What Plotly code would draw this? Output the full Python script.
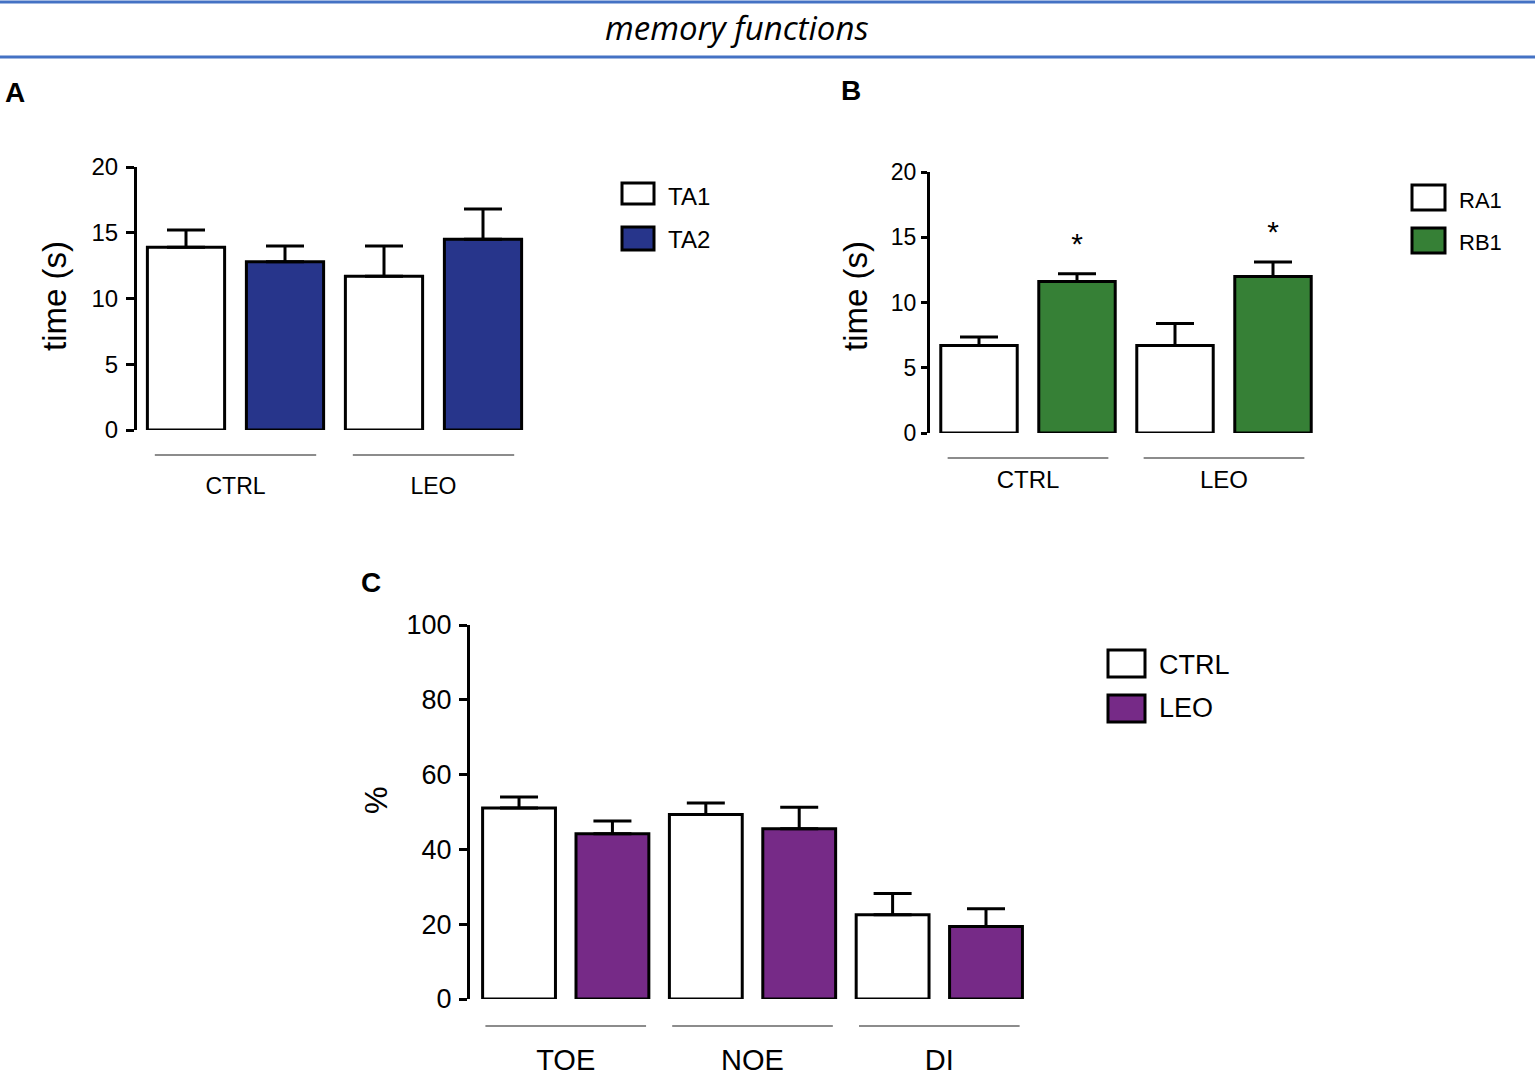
import plotly.graph_objects as go

# ---------------- data ----------------
A_groups = ["CTRL", "LEO"]
A_series = ["TA1", "TA2"]
TA1 = [13.9, 11.7]
TA1_sem = [1.3, 2.3]
TA2 = [12.8, 14.5]
TA2_sem = [1.2, 2.3]

B_groups = ["CTRL", "LEO"]
B_series = ["RA1", "RB1"]
RA1 = [6.7, 6.7]
RA1_sem = [0.65, 1.7]
RB1 = [11.6, 12.0]
RB1_sem = [0.6, 1.1]
RB1_sig = ["*", "*"]

C_groups = ["TOE", "NOE", "DI"]
C_series = ["CTRL", "LEO"]
C_CTRL = [51.1, 49.3, 22.5]
C_CTRL_sem = [2.9, 3.1, 5.7]
C_LEO = [44.2, 45.5, 19.4]
C_LEO_sem = [3.4, 5.8, 4.7]

A_yticks = [0, 5, 10, 15, 20]
B_yticks = [0, 5, 10, 15, 20]
C_yticks = [0, 20, 40, 60, 80, 100]

# ---------------- style ----------------
W, H = 1535, 1078
FONT = "Liberation Sans, Arial, sans-serif"
WHITE = "#ffffff"
BLUE = "#27358b"
GREEN = "#368036"
PURPLE = "#762a87"
BAR_W = 0.78


def px(x):
    return x / W


def py(y):
    return 1 - y / H


def pos(n_groups, s):
    return [2 * g + s for g in range(n_groups)]


fig = go.Figure()


def add_bar(name, vals, sem, color, s, xa, ya):
    fig.add_trace(go.Bar(
        name=name, x=pos(len(vals), s), y=vals, width=BAR_W,
        marker=dict(color=color, line=dict(color="black", width=3)),
        error_y=dict(type="data", array=sem, arrayminus=[0] * len(sem),
                     symmetric=False, color="black", thickness=3, width=19),
        xaxis=xa, yaxis=ya, showlegend=False,
    ))


add_bar("TA1", TA1, TA1_sem, WHITE, 0, "x", "y")
add_bar("TA2", TA2, TA2_sem, BLUE, 1, "x", "y")
add_bar("RA1", RA1, RA1_sem, WHITE, 0, "x2", "y2")
add_bar("RB1", RB1, RB1_sem, GREEN, 1, "x2", "y2")
add_bar("CTRL", C_CTRL, C_CTRL_sem, WHITE, 0, "x3", "y3")
add_bar("LEO", C_LEO, C_LEO_sem, PURPLE, 1, "x3", "y3")

# significance stars
fig.add_trace(go.Scatter(
    x=pos(len(RB1), 1), y=[v + e + 2.1 for v, e in zip(RB1, RB1_sem)],
    text=RB1_sig, mode="text", textposition="middle center",
    textfont=dict(size=30, color="black", family=FONT),
    xaxis="x2", yaxis="y2", showlegend=False, cliponaxis=False,
))


def xaxis(domain, rng, groups, size, standoff, anchor):
    return dict(domain=domain, range=rng, anchor=anchor, showline=False,
                showgrid=False, zeroline=False, ticks="", automargin=False,
                tickvals=[2 * g + 0.5 for g in range(len(groups))],
                ticktext=groups, ticklabelstandoff=standoff,
                tickfont=dict(size=size, color="black", family=FONT),
                fixedrange=True)


def yaxis(domain, rng, ticks, size, anchor, ticklen, standoff):
    return dict(domain=domain, range=rng, anchor=anchor, tickvals=ticks,
                ticks="outside", ticklen=ticklen, tickwidth=3, tickcolor="black",
                showline=True, linewidth=3, linecolor="black", automargin=False,
                showgrid=False, zeroline=False, ticklabelstandoff=standoff,
                tickfont=dict(size=size, color="black", family=FONT),
                fixedrange=True)


layout = dict(
    width=W, height=H,
    margin=dict(l=0, r=0, t=0, b=0, pad=0, autoexpand=False),
    paper_bgcolor="white", plot_bgcolor="white", barmode="overlay",
    showlegend=False,
    font=dict(family=FONT, color="black"),
    xaxis=xaxis([px(137), px(532.5)], [-0.495, 3.5], A_groups, 23, 40, "y"),
    yaxis=yaxis([py(430), py(167)], [0, 20], A_yticks, 24, "x", 8, 3),
    xaxis2=xaxis([px(930), px(1322)], [-0.5, 3.5], B_groups, 24, 30, "y2"),
    yaxis2=yaxis([py(433), py(172)], [0, 20], B_yticks, 23, "x2", 6, 0),
    xaxis3=xaxis([px(470), px(1032.7)], [-0.525, 5.5], C_groups, 29, 41, "y3"),
    yaxis3=yaxis([py(999), py(625)], [0, 100], C_yticks, 27, "x3", 8, 2),
)
fig.update_layout(**layout)

shapes = []
annotations = []

# header lines and title
for yy in (2, 57):
    shapes.append(dict(type="line", xref="paper", yref="paper", x0=0, x1=1,
                       y0=py(yy), y1=py(yy), line=dict(color="#4472c4", width=3)))
annotations.append(dict(text="<i>memory functions</i>", xref="paper", yref="paper",
                        x=px(737), y=py(27), xanchor="center", yanchor="middle",
                        showarrow=False,
                        font=dict(family="Open Sans, sans-serif", size=33, color="black")))

# panel letters
for letter, (lx, ly) in {"A": (15, 92), "B": (851, 91), "C": (371, 582)}.items():
    annotations.append(dict(text="<b>%s</b>" % letter, xref="paper", yref="paper",
                            x=px(lx), y=py(ly), xanchor="center", yanchor="middle",
                            showarrow=False, font=dict(size=28, family=FONT, color="black")))

# y-axis titles
for txt, (tx, ty), size in [("time (s)", (54, 296), 33), ("time (s)", (855, 296), 33),
                            ("%", (377, 800), 31)]:
    annotations.append(dict(text=txt, xref="paper", yref="paper", x=px(tx), y=py(ty),
                            xanchor="center", yanchor="middle", textangle=-90,
                            showarrow=False, font=dict(size=size, family=FONT, color="black")))

# group underlines
for xr, groups, yy, half in [("x", A_groups, 455, 0.815), ("x2", B_groups, 458, 0.82),
                             ("x3", C_groups, 1026, 0.86)]:
    for g in range(len(groups)):
        c = 2 * g + 0.5
        shapes.append(dict(type="line", xref=xr, yref="paper", x0=c - half, x1=c + half,
                           y0=py(yy), y1=py(yy), line=dict(color="#666666", width=1.5)))

# legends
legends = [
    (A_series, [WHITE, BLUE], (622, 654), [(183, 204), (227, 250)], 666, [196, 239], 24),
    (B_series, [WHITE, GREEN], (1412, 1445), [(185, 210), (228, 253)], 1457, [201, 242], 22),
    (C_series, [WHITE, PURPLE], (1108, 1145), [(650, 677), (695, 722)], 1157, [665, 708], 27),
]
for names, colors, (bx0, bx1), boxes, tx, tys, fs in legends:
    for name, col, (by0, by1), ty in zip(names, colors, boxes, tys):
        shapes.append(dict(type="rect", xref="paper", yref="paper",
                           x0=px(bx0), x1=px(bx1), y0=py(by1), y1=py(by0),
                           fillcolor=col, line=dict(color="black", width=3)))
        annotations.append(dict(text=name, xref="paper", yref="paper", x=px(tx), y=py(ty),
                                xanchor="left", yanchor="middle", showarrow=False,
                                font=dict(size=fs, family=FONT, color="black")))

fig.update_layout(shapes=shapes, annotations=annotations)

# remove the page's default body margin so the figure fills the window exactly
NO_MARGIN = "document.body.style.margin='0px';"
fig.write_html("out.html", post_script=NO_MARGIN,
               config={"displayModeBar": False, "staticPlot": True})
